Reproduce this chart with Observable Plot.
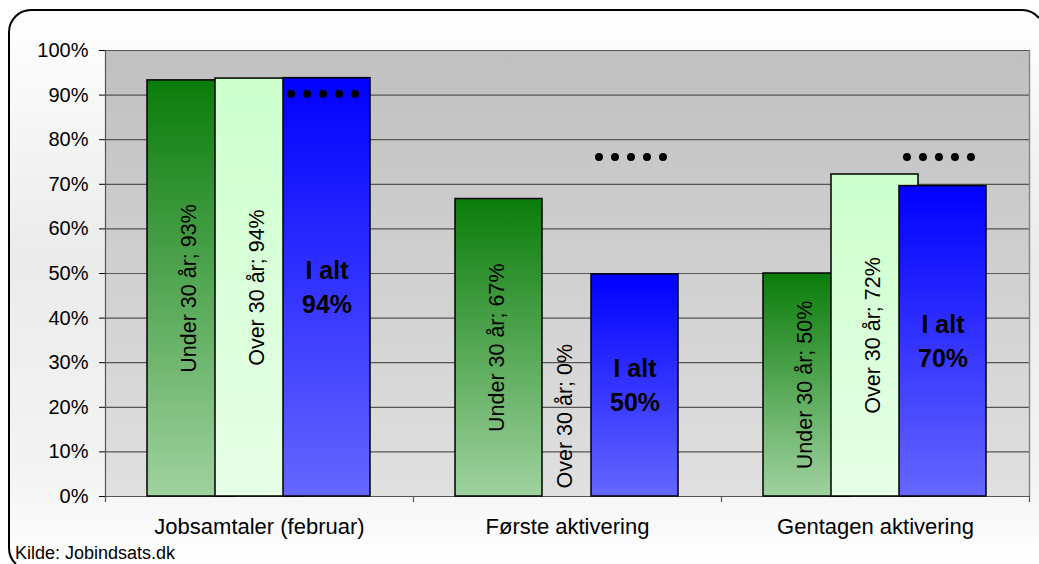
<!DOCTYPE html>
<html><head><meta charset="utf-8">
<script src="https://cdn.jsdelivr.net/npm/d3@7"></script>
<script src="https://cdn.jsdelivr.net/npm/@observablehq/plot@0.6"></script>
<style>
html,body{margin:0;padding:0;background:#fff;overflow:hidden;}
#bg{position:absolute;left:0;top:0;width:1039px;height:564px;overflow:hidden;}
#chart{position:absolute;left:0;top:0;}
#caption{position:absolute;left:15px;top:543px;font-family:"Liberation Sans",Arial,sans-serif;font-size:18px;line-height:20px;color:#000;white-space:nowrap;}
</style></head><body>
<div id="bg"></div>
<div id="chart"></div>
<div id="caption">Kilde: Jobindsats.dk</div>
<script>
// ---- data ----
const categories = ["Jobsamtaler (februar)", "Første aktivering", "Gentagen aktivering"];
const seriesNames = ["Under 30 år", "Over 30 år", "I alt"];
const under30 = [0.933, 0.667, 0.500];
const over30  = [0.937, 0.000, 0.722];
const total   = [0.938, 0.498, 0.696];
const targets = [0.903, 0.761, 0.761];
const yTicks  = [0, 0.1, 0.2, 0.3, 0.4, 0.5, 0.6, 0.7, 0.8, 0.9, 1.0];

// ---- decorative rounded frame behind the chart (only its visible part is drawn) ----
const W = 1039, H = 564;
const bgSvg = d3.select("#bg").append("svg").attr("width", W).attr("height", H)
  .style("display", "block").style("overflow", "hidden");
const fg = bgSvg.append("defs").append("linearGradient").attr("id", "gFrame")
  .attr("x1", 0).attr("y1", 0).attr("x2", 0).attr("y2", 1);
[[0, "#ffffff"], [0.45, "#ebebeb"], [0.85, "#f4f4f4"], [1, "#ffffff"]]
  .forEach(([o, c]) => fg.append("stop").attr("offset", o).attr("stop-color", c));
const R = 22, L = 9, T = 10;
const trX = W - 1 - R + 6;             // centre x of top-right arc
const trY = T + R;
const yEnd = trY - Math.sqrt(R * R - (W - trX) ** 2);
const blY = H + 6 - R;                 // centre y of bottom-left arc
const xStart = L + R - Math.sqrt(R * R - (H - blY) ** 2);
bgSvg.append("path")
  .attr("d", `M${xStart},${H} A${R},${R} 0 0 1 ${L},${blY} V${T + R} A${R},${R} 0 0 1 ${L + R},${T} H${trX} A${R},${R} 0 0 1 ${W},${yEnd} V${H} Z`)
  .attr("fill", "url(#gFrame)").attr("stroke", "none");
bgSvg.append("path")
  .attr("d", `M${xStart},${H} A${R},${R} 0 0 1 ${L},${blY} V${T + R} A${R},${R} 0 0 1 ${L + R},${T} H${trX} A${R},${R} 0 0 1 ${W},${yEnd}`)
  .attr("fill", "none").attr("stroke", "#000").attr("stroke-width", 2);

// ---- layout helpers (pixel offsets inside each category band, 308px per band) ----
const BAND = 308;
const u = px => px / BAND;
const seriesArrays = [under30, over30, total];
const bars = categories.flatMap((cat, i) => seriesArrays.map((arr, j) => {
  const x1 = i + u(42 + 68 * j);
  return {i, j, cat, series: seriesNames[j], value: arr[i], x1, x2: x1 + u(87), xc: x1 + u(43.5)};
}));
const pct = v => Math.round(v * 100);
const fills = ["url(#gGreen)", "url(#gLight)", "url(#gBlue)"];
const targetRows = targets.map((t, i) => ({i, t}));

const chart = Plot.plot({
  width: 1039,
  height: 540,
  marginLeft: 105,
  marginRight: 10,
  marginTop: 50,
  marginBottom: 44,
  style: {background: "transparent", fontFamily: "'Liberation Sans', Arial, sans-serif", fontSize: "20px", color: "#000", overflow: "visible", maxWidth: "none"},
  x: {domain: [0, 3], axis: null},
  y: {domain: [0, 1], ticks: yTicks, tickFormat: d => pct(d) + "%", tickSize: 6, tickPadding: 11, label: null},
  marks: [
    Plot.frame({fill: "url(#gBg)", stroke: "none"}),
    Plot.ruleY(yTicks, {stroke: "#555", strokeWidth: 1.2}),
    Plot.ruleX([3], {stroke: "#888", strokeWidth: 1.5}),
    Plot.ruleX([0], {stroke: "#555", strokeWidth: 1.2}),
    Plot.ruleX([0, 1, 2, 3], {y1: 0, y2: -6 / 446, stroke: "#555", strokeWidth: 1.2}),
    ...[0, 1, 2].map(j => Plot.rectY(bars.filter(d => d.j === j && d.value > 0), {
      x1: "x1", x2: "x2", y1: 0, y2: "value", fill: fills[j], stroke: "#000", strokeWidth: 1.5
    })),
    Plot.ruleY(targetRows, {
      x1: d => d.i + u(186), x2: d => d.i + u(250.5), y: "t",
      stroke: "#000", strokeWidth: 8, strokeDasharray: "0 16", strokeLinecap: "round"
    }),
    Plot.text(bars.filter(d => d.j < 2 && d.value > 0), {
      x: "xc", y: d => d.value / 2, text: d => `${d.series}; ${pct(d.value)}%`,
      rotate: -90, fontSize: 21.5, dx: -2, fill: "#000"
    }),
    Plot.text(bars.filter(d => d.j < 2 && d.value === 0), {
      x: "xc", y: 0, text: d => `${d.series}; ${pct(d.value)}%`,
      rotate: -90, fontSize: 21.5, dx: -2, dy: -8, textAnchor: "start", fill: "#000"
    }),
    Plot.text(bars.filter(d => d.j === 2), {
      x: "xc", y: d => d.value / 2, text: d => `${d.series}\n${pct(d.value)}%`,
      fontSize: 25, fontWeight: "bold", lineHeight: 1.36, dy: -2, fill: "#000"
    }),
    Plot.text(categories, {
      x: (d, i) => i + 0.5, y: 0, text: d => d, dy: 37, lineAnchor: "bottom", fontSize: 22, fill: "#000"
    })
  ]
});

const svg = d3.select(chart);
const defs = svg.insert("defs", ":first-child");
function grad(id, c0, c1) {
  const g = defs.append("linearGradient").attr("id", id)
    .attr("x1", 0).attr("y1", 0).attr("x2", 0).attr("y2", 1);
  g.append("stop").attr("offset", 0).attr("stop-color", c0);
  g.append("stop").attr("offset", 1).attr("stop-color", c1);
}
grad("gBg", "#c0c0c0", "#e0e0e0");
grad("gGreen", "#0a7c0a", "#a0d2a0");
grad("gLight", "#ccffcc", "#e8ffe8");
grad("gBlue", "#0000ff", "#6666ff");

document.getElementById("chart").appendChild(chart);
</script>
</body></html>
